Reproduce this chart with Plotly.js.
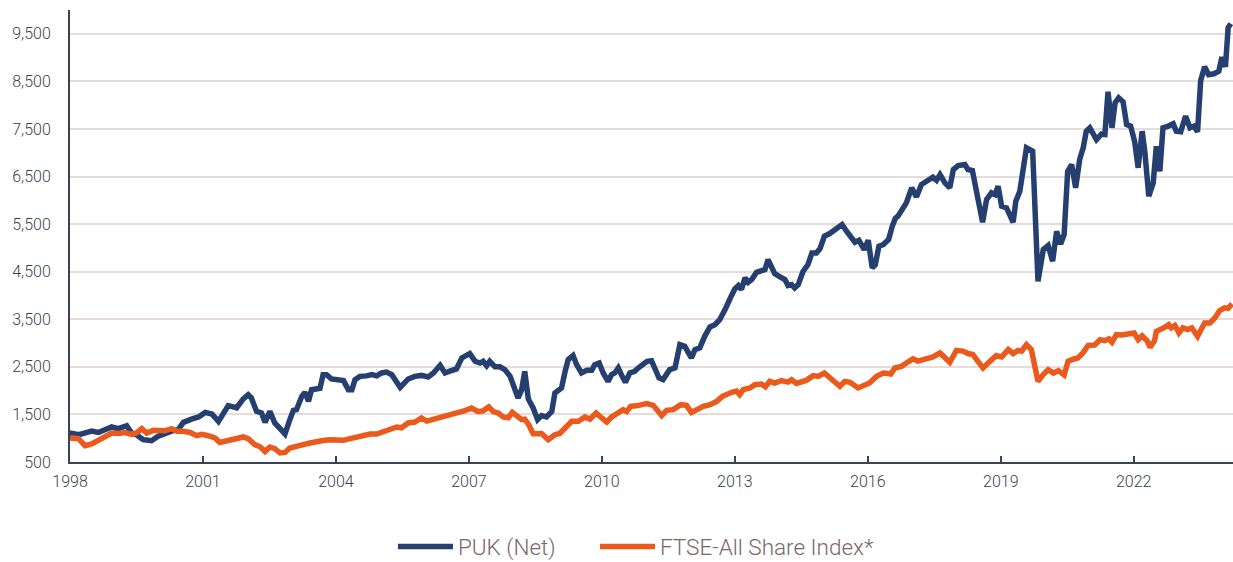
<!DOCTYPE html>
<html><head><meta charset="utf-8">
<script src="https://cdn.plot.ly/plotly-3.0.1.min.js"></script>
<style>html,body{margin:0;padding:0;background:#fff}#chart{width:1233px;height:562px}</style>
</head><body><div id="chart"></div>
<script>
const pukYears = [1998.00,1998.04,1998.20,1998.35,1998.49,1998.64,1998.80,1998.94,1999.09,1999.28,1999.39,1999.50,1999.65,1999.84,1999.99,2000.14,2000.29,2000.44,2000.56,2000.74,2000.90,2001.05,2001.20,2001.35,2001.46,2001.57,2001.68,2001.76,2001.91,2002.02,2002.09,2002.21,2002.32,2002.40,2002.51,2002.62,2002.74,2002.85,2002.96,2003.04,2003.11,2003.23,2003.30,2003.38,2003.45,2003.56,2003.64,2003.71,2003.79,2003.90,2004.02,2004.17,2004.28,2004.36,2004.43,2004.54,2004.69,2004.81,2004.92,2005.03,2005.14,2005.26,2005.45,2005.63,2005.78,2005.93,2006.08,2006.20,2006.35,2006.46,2006.57,2006.72,2006.84,2006.91,2007.02,2007.14,2007.25,2007.32,2007.40,2007.47,2007.59,2007.70,2007.81,2007.93,2008.02,2008.11,2008.19,2008.26,2008.34,2008.45,2008.55,2008.64,2008.75,2008.87,2008.94,2009.02,2009.09,2009.17,2009.24,2009.35,2009.43,2009.54,2009.66,2009.77,2009.84,2009.94,2010.03,2010.14,2010.22,2010.29,2010.37,2010.44,2010.53,2010.63,2010.74,2010.82,2010.93,2011.02,2011.12,2011.20,2011.29,2011.38,2011.46,2011.53,2011.65,2011.76,2011.87,2011.95,2012.02,2012.10,2012.21,2012.32,2012.44,2012.55,2012.66,2012.78,2012.85,2012.90,2013.00,2013.08,2013.15,2013.23,2013.30,2013.38,2013.49,2013.60,2013.68,2013.75,2013.83,2013.90,2014.02,2014.13,2014.20,2014.28,2014.35,2014.43,2014.54,2014.65,2014.74,2014.84,2014.92,2015.02,2015.14,2015.26,2015.33,2015.42,2015.52,2015.62,2015.71,2015.80,2015.92,2016.01,2016.10,2016.17,2016.25,2016.35,2016.47,2016.55,2016.62,2016.68,2016.80,2016.87,2016.99,2017.10,2017.21,2017.36,2017.47,2017.55,2017.63,2017.74,2017.85,2017.93,2018.04,2018.19,2018.26,2018.36,2018.47,2018.59,2018.68,2018.79,2018.87,2018.94,2019.02,2019.13,2019.28,2019.34,2019.43,2019.58,2019.72,2019.84,2019.96,2020.07,2020.17,2020.26,2020.35,2020.43,2020.51,2020.60,2020.69,2020.78,2020.86,2020.93,2021.01,2021.08,2021.16,2021.27,2021.35,2021.42,2021.51,2021.58,2021.66,2021.76,2021.84,2021.93,2022.02,2022.10,2022.19,2022.25,2022.34,2022.44,2022.51,2022.59,2022.66,2022.78,2022.89,2022.96,2023.06,2023.17,2023.27,2023.36,2023.44,2023.51,2023.60,2023.69,2023.81,2023.92,2023.99,2024.07,2024.13,2024.19];
const pukValues = [1000,1100,1074,1100,1150,1120,1180,1236,1200,1263,1110,1074,969,948,1040,1110,1150,1180,1333,1400,1446,1543,1510,1354,1543,1684,1660,1640,1825,1915,1850,1564,1530,1333,1564,1320,1200,1089,1390,1585,1600,1880,1964,1775,2020,2030,2050,2336,2336,2245,2230,2210,2020,2020,2230,2300,2310,2336,2310,2371,2390,2336,2070,2245,2300,2320,2287,2371,2532,2371,2410,2456,2687,2736,2777,2616,2580,2616,2525,2616,2500,2500,2441,2300,2056,1846,2020,2405,1825,1635,1390,1474,1446,1564,1951,2020,2056,2400,2652,2736,2546,2371,2427,2427,2546,2582,2371,2195,2336,2371,2476,2336,2174,2371,2405,2476,2546,2616,2630,2476,2266,2231,2336,2441,2476,2967,2931,2792,2687,2862,2900,3141,3339,3387,3492,3703,3878,3950,4138,4208,4124,4370,4278,4334,4488,4509,4544,4754,4614,4460,4390,4334,4208,4229,4159,4229,4509,4649,4895,4895,4980,5244,5301,5385,5400,5490,5350,5211,5120,5160,4965,5161,4580,4649,5034,5070,5175,5450,5620,5665,5842,5947,6262,6073,6332,6422,6485,6420,6542,6367,6262,6647,6731,6752,6647,6626,6086,5539,6016,6157,6120,6296,5875,5840,5539,5980,6191,7103,7032,4298,4965,5049,4719,5349,5080,5280,6611,6752,6262,6857,7103,7453,7524,7383,7278,7390,7383,8281,7524,8050,8155,8071,7594,7560,7243,6683,7453,7032,6086,6367,7138,6611,7524,7560,7608,7453,7440,7769,7524,7560,7440,8513,8808,8640,8660,8714,9008,8808,9627,9713];

const ftseYears = [1998.00,1998.04,1998.19,1998.34,1998.49,1998.64,1998.79,1998.94,1999.09,1999.24,1999.39,1999.50,1999.62,1999.73,1999.88,1999.99,2000.14,2000.29,2000.41,2000.56,2000.71,2000.86,2000.97,2001.12,2001.27,2001.38,2001.50,2001.65,2001.76,2001.91,2002.02,2002.17,2002.29,2002.40,2002.51,2002.62,2002.74,2002.85,2002.96,2003.11,2003.26,2003.41,2003.56,2003.71,2003.86,2004.02,2004.17,2004.32,2004.47,2004.62,2004.77,2004.92,2005.07,2005.22,2005.37,2005.48,2005.63,2005.78,2005.93,2006.05,2006.23,2006.38,2006.53,2006.65,2006.76,2006.91,2007.06,2007.21,2007.32,2007.45,2007.55,2007.66,2007.77,2007.89,2007.98,2008.08,2008.19,2008.26,2008.35,2008.45,2008.56,2008.64,2008.79,2008.94,2009.05,2009.17,2009.32,2009.47,2009.62,2009.73,2009.87,2009.99,2010.11,2010.22,2010.37,2010.48,2010.56,2010.65,2010.78,2010.90,2011.01,2011.16,2011.25,2011.35,2011.46,2011.61,2011.78,2011.91,2012.02,2012.14,2012.29,2012.44,2012.59,2012.72,2012.85,2012.93,2013.04,2013.11,2013.19,2013.34,2013.45,2013.60,2013.69,2013.79,2013.90,2014.05,2014.20,2014.28,2014.39,2014.50,2014.61,2014.77,2014.88,2015.02,2015.11,2015.22,2015.37,2015.48,2015.60,2015.78,2015.93,2016.04,2016.20,2016.35,2016.46,2016.52,2016.61,2016.76,2016.87,2017.02,2017.13,2017.28,2017.47,2017.63,2017.74,2017.85,2018.00,2018.15,2018.26,2018.37,2018.48,2018.60,2018.75,2018.90,2019.02,2019.17,2019.28,2019.39,2019.47,2019.58,2019.69,2019.84,2019.96,2020.07,2020.19,2020.30,2020.43,2020.52,2020.63,2020.74,2020.86,2020.97,2021.12,2021.24,2021.35,2021.44,2021.51,2021.61,2021.72,2021.87,2022.01,2022.10,2022.19,2022.30,2022.37,2022.47,2022.51,2022.68,2022.79,2022.85,2022.93,2023.02,2023.11,2023.22,2023.31,2023.44,2023.53,2023.60,2023.72,2023.83,2023.94,2024.05,2024.13,2024.22];
const ftseValues = [1000,1005,990,843,880,954,1038,1110,1100,1120,1080,1110,1200,1110,1165,1150,1155,1200,1145,1145,1120,1053,1080,1053,1005,912,940,990,990,1026,990,864,820,723,815,780,689,700,794,815,864,900,934,950,969,969,955,990,1020,1053,1089,1089,1144,1194,1236,1220,1320,1340,1425,1360,1404,1430,1474,1500,1516,1580,1635,1560,1575,1657,1560,1530,1446,1430,1543,1474,1390,1400,1284,1095,1095,1100,969,1074,1100,1205,1354,1354,1446,1400,1530,1430,1341,1446,1530,1600,1560,1670,1680,1705,1726,1690,1600,1474,1585,1600,1705,1690,1543,1600,1670,1705,1775,1880,1951,1965,1990,1915,2020,2056,2126,2140,2080,2195,2160,2210,2180,2231,2150,2195,2215,2315,2300,2371,2300,2231,2090,2195,2175,2056,2126,2160,2300,2371,2360,2350,2476,2510,2582,2666,2620,2666,2708,2792,2700,2595,2847,2830,2780,2760,2620,2476,2610,2736,2710,2862,2780,2847,2830,2967,2862,2195,2336,2441,2370,2420,2330,2616,2660,2687,2800,2952,2960,3072,3050,3090,3020,3177,3170,3190,3213,3072,3150,3050,2910,3050,3247,3320,3387,3320,3370,3213,3320,3285,3320,3141,3285,3423,3423,3528,3682,3740,3730,3823];

const xTickVals = [1998,2001,2004,2007,2010,2013,2016,2019,2022];
const xTickText = ['1998','2001','2004','2007','2010','2013','2016','2019','2022'];
const yTickVals = [500,1500,2500,3500,4500,5500,6500,7500,8500,9500];
const yTickText = ['500','1,500','2,500','3,500','4,500','5,500','6,500','7,500','8,500','9,500'];

const FONT = 'Roboto, "Liberation Sans", Arial, sans-serif';
const LEGEND_FONT = {family: FONT, size: 22.5, color: '#7b6767', weight: 300};
const data = [
  {x: pukYears, y: pukValues, name: 'PUK (Net)', type: 'scatter', mode: 'lines', legend: 'legend',
   line: {color: '#243f70', width: 5.5, shape: 'linear'}},
  {x: ftseYears, y: ftseValues, name: 'FTSE-All Share Index*', type: 'scatter', mode: 'lines', legend: 'legend2',
   line: {color: '#e95a1c', width: 5.5, shape: 'linear'}}
];
const layout = {
  width: 1233, height: 562,
  margin: {l: 70, r: 0, t: 10, b: 100, autoexpand: false},
  paper_bgcolor: '#fff', plot_bgcolor: '#fff',
  font: {family: FONT, color: '#3b3f4f', size: 16, weight: 300},
  showlegend: true,
  legend: {orientation: 'h', x: 0.2777, xanchor: 'left', y: -0.188, yanchor: 'middle',
           itemwidth: 55, font: LEGEND_FONT},
  legend2: {orientation: 'h', x: 0.4514, xanchor: 'left', y: -0.188, yanchor: 'middle',
           itemwidth: 55, font: LEGEND_FONT},
  xaxis: {range: [1998, 2024.24], tickmode: 'array', tickvals: xTickVals, ticktext: xTickText,
          showgrid: false, zeroline: false, showline: true, linecolor: '#3a4256', linewidth: 2,
          ticks: 'inside', ticklen: 6, tickwidth: 2, tickcolor: '#3a4256',
          tickfont: {family: FONT, size: 16, color: '#3b3f4f', weight: 300}, ticklabelstandoff: 4},
  yaxis: {range: [500, 10000], tickmode: 'array', tickvals: yTickVals, ticktext: yTickText,
          showgrid: true, gridcolor: '#e6dcdc', gridwidth: 2, zeroline: false,
          showline: true, linecolor: '#3a4256', linewidth: 2, ticks: '',
          tickfont: {family: FONT, size: 16, color: '#3b3f4f', weight: 300}, ticklabelstandoff: 14}
};
Plotly.newPlot('chart', data, layout, {displayModeBar: false, staticPlot: true});
</script></body></html>
